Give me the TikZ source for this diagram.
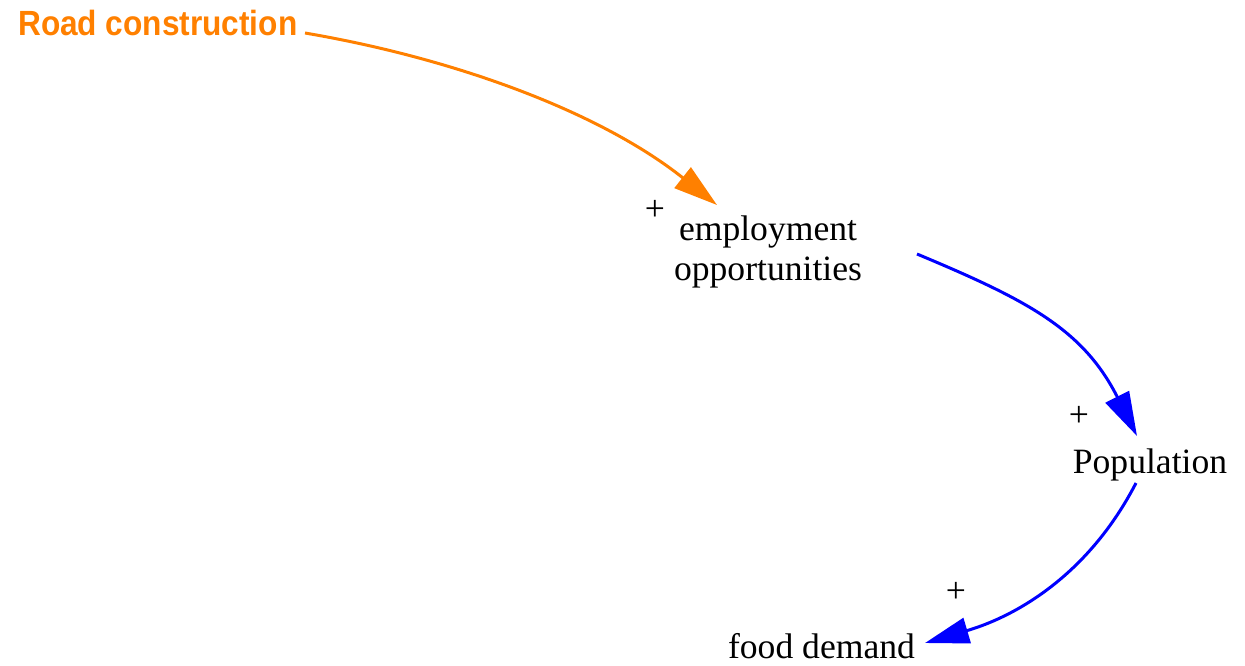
\documentclass[tikz,border=0pt]{standalone}
\usepackage{fontspec}
\setmainfont{Liberation Serif}
\newfontfamily\rcfont{Liberation Sans}
\usetikzlibrary{arrows.meta}
\definecolor{rcorange}{RGB}{255,128,0}
\definecolor{linkblue}{RGB}{0,0,255}
\begin{document}
\begin{tikzpicture}[x=1pt,y=-1pt,
  var/.style={inner sep=0pt,anchor=base,font=\fontsize{35.6}{40}\selectfont},
  exog/.style={inner sep=0pt,anchor=base west,text=rcorange,font=\rcfont\bfseries\fontsize{35}{40}\selectfont},
  pol/.style={inner sep=0pt,anchor=center,font=\fontsize{35.6}{40}\selectfont},
  link/.style={line width=3pt,-{Triangle[length=44pt,width=26pt]}},
]
\useasboundingbox (0,0) rectangle (1245,665);
\node[exog] (rc) at (18,35) {\scalebox{0.903}[1]{Road construction}};
\node[var] (emp) at (768,240) {\begin{tabular}[t]{@{}c@{}}employment\\opportunities\end{tabular}};
\node[var] (pop) at (1150,473) {Population};
\node[var] (food) at (821.5,658) {food demand};
\node[pol] (p1) at (655,210) {+};
\node[pol] (p2) at (1079,416) {+};
\node[pol] (p3) at (956,592) {+};
\coordinate (rc-out) at (305,33);
\coordinate (emp-in) at (717,205);
\coordinate (emp-out) at (917,254);
\coordinate (pop-in) at (1137,436);
\coordinate (pop-out) at (1136,483);
\coordinate (food-in) at (925,643);
\draw[link,rcorange] (rc-out) .. controls (455,58.5) and (600,112) .. (emp-in);
\draw[link,linkblue] (emp-out) .. controls (1027,300) and (1083,329) .. (pop-in);
\draw[link,linkblue] (pop-out) .. controls (1090,572) and (1020,615) .. (food-in);
\end{tikzpicture}
\end{document}
